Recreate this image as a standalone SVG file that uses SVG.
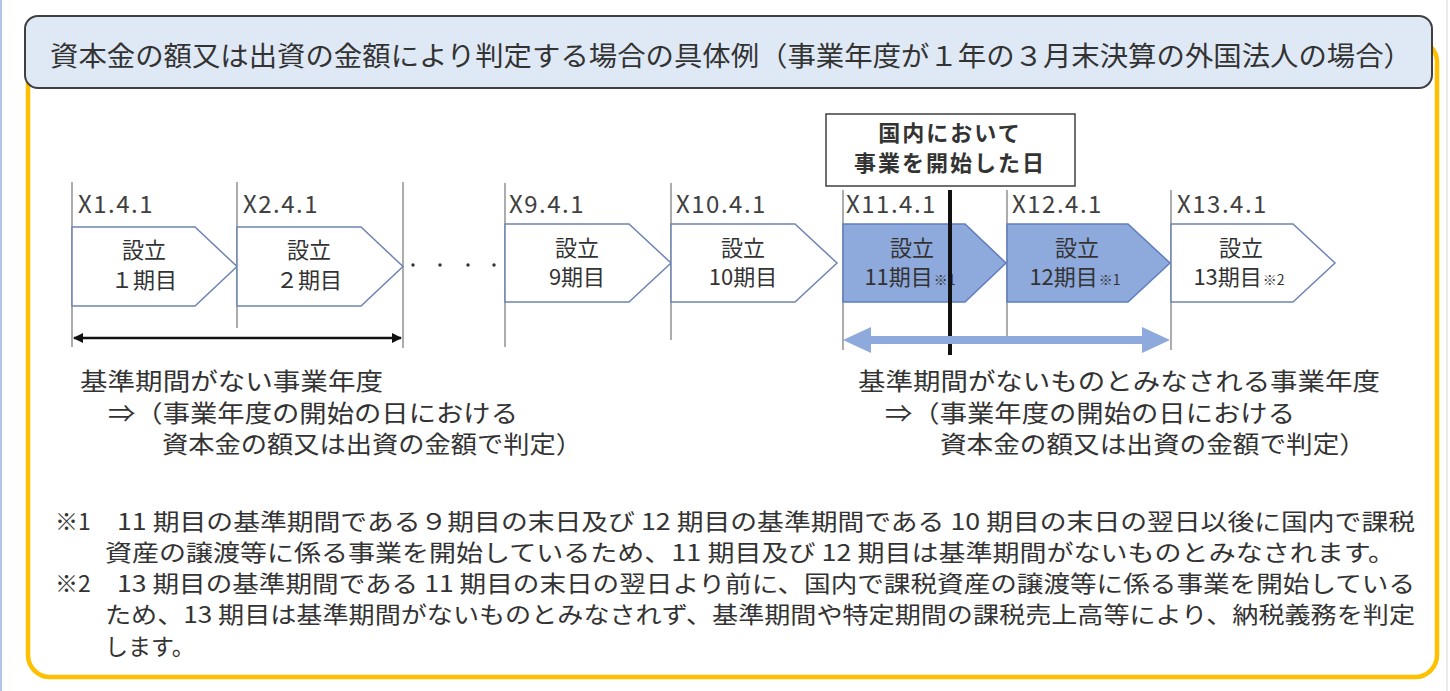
<svg xmlns="http://www.w3.org/2000/svg" width="1450" height="691" viewBox="0 0 1450 691">
<defs>
<style>
text{font-family:"Noto Sans CJK JP","Noto Sans",sans-serif;fill:#333}
.tick{stroke:#808080;stroke-width:1.3}
.date{font-size:24px;letter-spacing:1.5px;fill:#404040}
.pent{fill:#fff;stroke:#6F84B2;stroke-width:1.5}
.pent.on{fill:#8EA9DB;stroke:#5F7DBE}
.lbl{font-size:22px;text-anchor:middle}
.sm{font-size:14px}
.body{font-size:24px}
.note{font-size:23px}
</style>
<marker id="ah" viewBox="0 0 10 10" refX="9" refY="5" markerWidth="4.5" markerHeight="4" orient="auto-start-reverse" markerUnits="strokeWidth">
<path d="M0,0 L10,5 L0,10 z" fill="#111"/>
</marker>
</defs>
<rect width="1450" height="691" fill="#fff"/>
<line x1="1" y1="0" x2="1" y2="691" stroke="#B4C4E4" stroke-width="2"/>
<line x1="1447" y1="0" x2="1447" y2="691" stroke="#E4E4E4" stroke-width="1.5"/>

<g id="frame">
<rect x="28" y="40" width="1409" height="637" rx="22" fill="#fff" stroke="#FFC000" stroke-width="4.5"/>
</g>

<g id="title">
<rect x="25" y="16" width="1407" height="72" rx="13" fill="#DFE9F5" stroke="#404040" stroke-width="2"/>
<text x="50" y="66" font-size="27" textLength="1362" lengthAdjust="spacingAndGlyphs">資本金の額又は出資の金額により判定する場合の具体例（事業年度が１年の３月末決算の外国法人の場合）</text>
</g>

<g id="timeline">
<line class="tick" x1="72" y1="182" x2="72" y2="347"/>
<line class="tick" x1="237" y1="182" x2="237" y2="328"/>
<line class="tick" x1="403" y1="182" x2="403" y2="348"/>
<line class="tick" x1="505" y1="183" x2="505" y2="347"/>
<line class="tick" x1="671" y1="183" x2="671" y2="340"/>
<line class="tick" x1="843" y1="190" x2="843" y2="350"/>
<line class="tick" x1="1007" y1="190" x2="1007" y2="340"/>
<line class="tick" x1="1171" y1="190" x2="1171" y2="350"/>
<text class="date" x="78" y="213">X1.4.1</text>
<text class="date" x="243" y="213">X2.4.1</text>
<text class="date" x="509" y="213">X9.4.1</text>
<text class="date" x="676" y="213">X10.4.1</text>
<text class="date" x="846" y="213">X11.4.1</text>
<text class="date" x="1012" y="213">X12.4.1</text>
<text class="date" x="1177" y="213">X13.4.1</text>
<circle cx="413" cy="265" r="1.7" fill="#333"/>
<circle cx="440" cy="265" r="1.7" fill="#333"/>
<circle cx="468" cy="265" r="1.7" fill="#333"/>
<circle cx="494" cy="265" r="1.7" fill="#333"/>
</g>

<g id="period1">
<polygon class="pent" points="72,227 195,227 237,266.5 195,306 72,306"/>
<text class="lbl" x="144" y="258">設立</text>
<text class="lbl" x="144" y="288">１期目</text>
</g>
<g id="period2">
<polygon class="pent" points="237,227 361,227 403,266.5 361,306 237,306"/>
<text class="lbl" x="309" y="258">設立</text>
<text class="lbl" x="309" y="288">２期目</text>
</g>
<g id="period9">
<polygon class="pent" points="505,224 629,224 671,263 629,302 505,302"/>
<text class="lbl" x="577" y="256">設立</text>
<text class="lbl" x="577" y="285">9期目</text>
</g>
<g id="period10">
<polygon class="pent" points="671,224 795,224 837,263 795,302 671,302"/>
<text class="lbl" x="743" y="256">設立</text>
<text class="lbl" x="743" y="285">10期目</text>
</g>
<g id="period11">
<polygon class="pent on" points="843,224 965,224 1006,263 965,302 843,302"/>
<text class="lbl" x="912" y="256">設立</text>
<text class="lbl" x="910" y="285">11期目<tspan class="sm" dx="1">※1</tspan></text>
</g>
<g id="period12">
<polygon class="pent on" points="1007,224 1128,224 1170,263 1128,302 1007,302"/>
<text class="lbl" x="1077" y="256">設立</text>
<text class="lbl" x="1075" y="285">12期目<tspan class="sm" dx="1">※1</tspan></text>
</g>
<g id="period13">
<polygon class="pent" points="1171,224 1293,224 1335,263 1293,302 1171,302"/>
<text class="lbl" x="1241" y="256">設立</text>
<text class="lbl" x="1239" y="285">13期目<tspan class="sm" dx="1">※2</tspan></text>
</g>

<g id="start-box">
<rect x="826" y="114" width="249" height="72" fill="#fff" stroke="#404040" stroke-width="1.5"/>
<text x="950" y="141" font-size="22" font-weight="bold" text-anchor="middle" letter-spacing="2">国内において</text>
<text x="950" y="171" font-size="22" font-weight="bold" text-anchor="middle" letter-spacing="2">事業を開始した日</text>
</g>

<g id="connectors">
<line x1="950" y1="190" x2="950" y2="355" stroke="#111" stroke-width="4"/>
<line x1="74" y1="338" x2="401" y2="338" stroke="#111" stroke-width="2.5" marker-start="url(#ah)" marker-end="url(#ah)"/>
<polygon points="843,340 871,327 871,336 1142,336 1142,327 1170,340 1142,353 1142,344 871,344 871,353" fill="#8EA9DB"/>
</g>

<g id="label-left">
<text class="body" x="80" y="390" textLength="303" lengthAdjust="spacingAndGlyphs">基準期間がない事業年度</text>
<text class="body" x="108" y="422" textLength="410" lengthAdjust="spacingAndGlyphs">⇒（事業年度の開始の日における</text>
<text class="body" x="162" y="453" textLength="420" lengthAdjust="spacingAndGlyphs">資本金の額又は出資の金額で判定）</text>
</g>
<g id="label-right">
<text class="body" x="858" y="390" textLength="522" lengthAdjust="spacingAndGlyphs">基準期間がないものとみなされる事業年度</text>
<text class="body" x="885" y="422" textLength="410" lengthAdjust="spacingAndGlyphs">⇒（事業年度の開始の日における</text>
<text class="body" x="940" y="453" textLength="426" lengthAdjust="spacingAndGlyphs">資本金の額又は出資の金額で判定）</text>
</g>

<g id="notes">
<text class="note" x="55" y="530">※1</text>
<text class="note" x="117" y="530" textLength="1298" lengthAdjust="spacingAndGlyphs">11 期目の基準期間である９期目の末日及び 12 期目の基準期間である 10 期目の末日の翌日以後に国内で課税</text>
<text class="note" x="105" y="561" textLength="1290" lengthAdjust="spacingAndGlyphs">資産の譲渡等に係る事業を開始しているため、11 期目及び 12 期目は基準期間がないものとみなされます。</text>
<text class="note" x="55" y="592">※2</text>
<text class="note" x="117" y="592" textLength="1298" lengthAdjust="spacingAndGlyphs">13 期目の基準期間である 11 期目の末日の翌日より前に、国内で課税資産の譲渡等に係る事業を開始している</text>
<text class="note" x="105" y="623" textLength="1310" lengthAdjust="spacingAndGlyphs">ため、13 期目は基準期間がないものとみなされず、基準期間や特定期間の課税売上高等により、納税義務を判定</text>
<text class="note" x="105" y="655">します。</text>
</g>
</svg>
